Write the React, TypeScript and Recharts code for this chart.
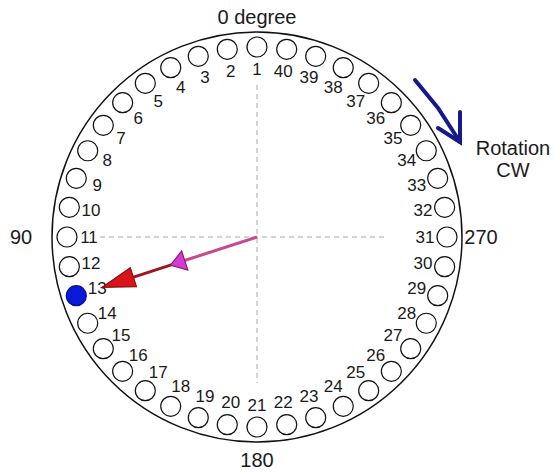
import { ScatterChart, Scatter, XAxis, YAxis, ReferenceLine, ReferenceDot } from "recharts";

// holes on the ring, numbered counter-clockwise from the top
const HOLE_NUMBERS = [
  1, 2, 3, 4, 5, 6, 7, 8, 9, 10, 11, 12, 13, 14, 15, 16, 17, 18, 19, 20,
  21, 22, 23, 24, 25, 26, 27, 28, 29, 30, 31, 32, 33, 34, 35, 36, 37, 38, 39, 40,
];
// degrees, counter-clockwise from "0 degree"
const HOLE_ANGLES = [
  0, 9, 18, 27, 36, 45, 54, 63, 72, 81, 90, 99, 108, 117, 126, 135, 144, 153, 162, 171,
  180, 189, 198, 207, 216, 225, 234, 243, 252, 261, 270, 279, 288, 297, 306, 315, 324, 333, 342, 351,
];
const FILLED_HOLE = 13;

// pointer: direction and radii (center, magenta head, red head)
const ARROW_ANGLE = 108;
const ARROW_RADII = [0, 91, 163];

const DIRECTION_LABELS = ["0 degree", "90", "180", "270"];
const DIRECTION_ANGLES = [0, 90, 180, 270];

const W = 554;
const H = 474;
const CX = 257;
const CY = 237;
const OUTER_R = 205;
const RING_R = 190;
const LABEL_R = 168;
const HOLE_R = 10;
const FONT = '"Liberation Sans", Arial, sans-serif';

const toXY = (deg: number, r: number) => {
  const a = (deg * Math.PI) / 180;
  return { x: -r * Math.sin(a), y: r * Math.cos(a) };
};

const holes = HOLE_NUMBERS.map((n, i) => ({ ...toXY(HOLE_ANGLES[i], RING_R), n }));
const holeLabels = HOLE_NUMBERS.map((n, i) => ({ ...toXY(HOLE_ANGLES[i], LABEL_R), n }));

const dirLabels = DIRECTION_LABELS.map((text, i) => {
  const a = DIRECTION_ANGLES[i];
  const r = a === 0 ? 220 : a === 180 ? 223 : a === 90 ? 236 : 224;
  return { ...toXY(a, r), text };
});

const pinkShaft = [toXY(ARROW_ANGLE, ARROW_RADII[0]), toXY(ARROW_ANGLE, ARROW_RADII[1] - 14)];
const redShaft = [toXY(ARROW_ANGLE, ARROW_RADII[1] - 4), toXY(ARROW_ANGLE, ARROW_RADII[2] - 30)];
const heads = [
  { ...toXY(ARROW_ANGLE, ARROW_RADII[1]), len: 15, half: 10, fill: "#d43cd0", stroke: "#8a1a8a" },
  { ...toXY(ARROW_ANGLE, ARROW_RADII[2]), len: 33, half: 10, fill: "#d8141a", stroke: "#8a0a0a" },
];

// blue "rotation" arrow (annotation)
const rotShaft = [
  { x: 158, y: 157 },
  { x: 181, y: 129 },
  { x: 203, y: 95 },
];
const rotHead = [
  { x: 181, y: 109 },
  { x: 203, y: 95 },
  { x: 203, y: 125 },
];
const rotText = [
  { x: 256, y: 89, text: "Rotation" },
  { x: 256, y: 67, text: "CW" },
];

const Hole = (p: any) => (
  <circle
    cx={p.cx}
    cy={p.cy}
    r={HOLE_R}
    fill={p.payload.n === FILLED_HOLE ? "#0a18d8" : "#fff"}
    stroke={p.payload.n === FILLED_HOLE ? "#06108a" : "#111"}
    strokeWidth={1.2}
  />
);

const HoleLabel = (p: any) => (
  <text x={p.cx} y={p.cy} textAnchor="middle" dominantBaseline="central" fontSize={17} fill="#1a1a1a" fontFamily={FONT}>
    {p.payload.n}
  </text>
);

const BigText = (p: any) => (
  <text x={p.cx} y={p.cy} textAnchor="middle" dominantBaseline="central" fontSize={20} fill="#1a1a1a" fontFamily={FONT}>
    {p.payload.text}
  </text>
);

const Head = (p: any) => {
  const { cx, cy, payload } = p;
  const a = (ARROW_ANGLE * Math.PI) / 180;
  const ux = -Math.sin(a);
  const uy = -Math.cos(a);
  const bx = cx - payload.len * ux;
  const by = cy - payload.len * uy;
  const nx = -uy;
  const ny = ux;
  const pts = `${cx},${cy} ${bx + payload.half * nx},${by + payload.half * ny} ${bx - payload.half * nx},${by - payload.half * ny}`;
  return <polygon points={pts} fill={payload.fill} stroke={payload.stroke} strokeWidth={1.2} />;
};

const Nothing = () => <g />;

export default function App() {
  return (
    <div style={{ position: "absolute", left: 0, top: 0, width: W, height: H, background: "#fff" }}>
      <ScatterChart width={W} height={H} margin={{ top: 0, right: 0, bottom: 0, left: 0 }}>
        <XAxis type="number" dataKey="x" domain={[-CX, W - CX]} hide allowDataOverflow />
        <YAxis type="number" dataKey="y" domain={[-(H - CY), CY]} hide allowDataOverflow />
        <ReferenceDot x={0} y={0} r={OUTER_R} fill="none" stroke="#111" strokeWidth={1.5} />
        <ReferenceLine
          segment={[{ x: -157, y: 0 }, { x: 130, y: 0 }]}
          stroke="#a8a8a8"
          strokeDasharray="5 4"
        />
        <ReferenceLine
          segment={[{ x: 0, y: 152 }, { x: 0, y: -146 }]}
          stroke="#a8a8a8"
          strokeDasharray="5 4"
        />
        <Scatter data={holes} shape={Hole} isAnimationActive={false} />
        <Scatter data={holeLabels} shape={HoleLabel} isAnimationActive={false} />
        <Scatter data={dirLabels} shape={BigText} isAnimationActive={false} />
        <Scatter data={rotText} shape={BigText} isAnimationActive={false} />
        <Scatter
          data={pinkShaft}
          line={{ stroke: "#c84a8c", strokeWidth: 3 }}
          shape={Nothing}
          isAnimationActive={false}
        />
        <Scatter
          data={redShaft}
          line={{ stroke: "#a0141c", strokeWidth: 3 }}
          shape={Nothing}
          isAnimationActive={false}
        />
        <Scatter data={heads} shape={Head} isAnimationActive={false} />
        <Scatter
          data={rotShaft}
          line={{ stroke: "#15198a", strokeWidth: 4, strokeLinecap: "round" }}
          lineType="joint"
          shape={Nothing}
          isAnimationActive={false}
        />
        <Scatter
          data={rotHead}
          line={{ stroke: "#15198a", strokeWidth: 4, strokeLinecap: "round", strokeLinejoin: "miter" }}
          shape={Nothing}
          isAnimationActive={false}
        />
      </ScatterChart>
    </div>
  );
}
